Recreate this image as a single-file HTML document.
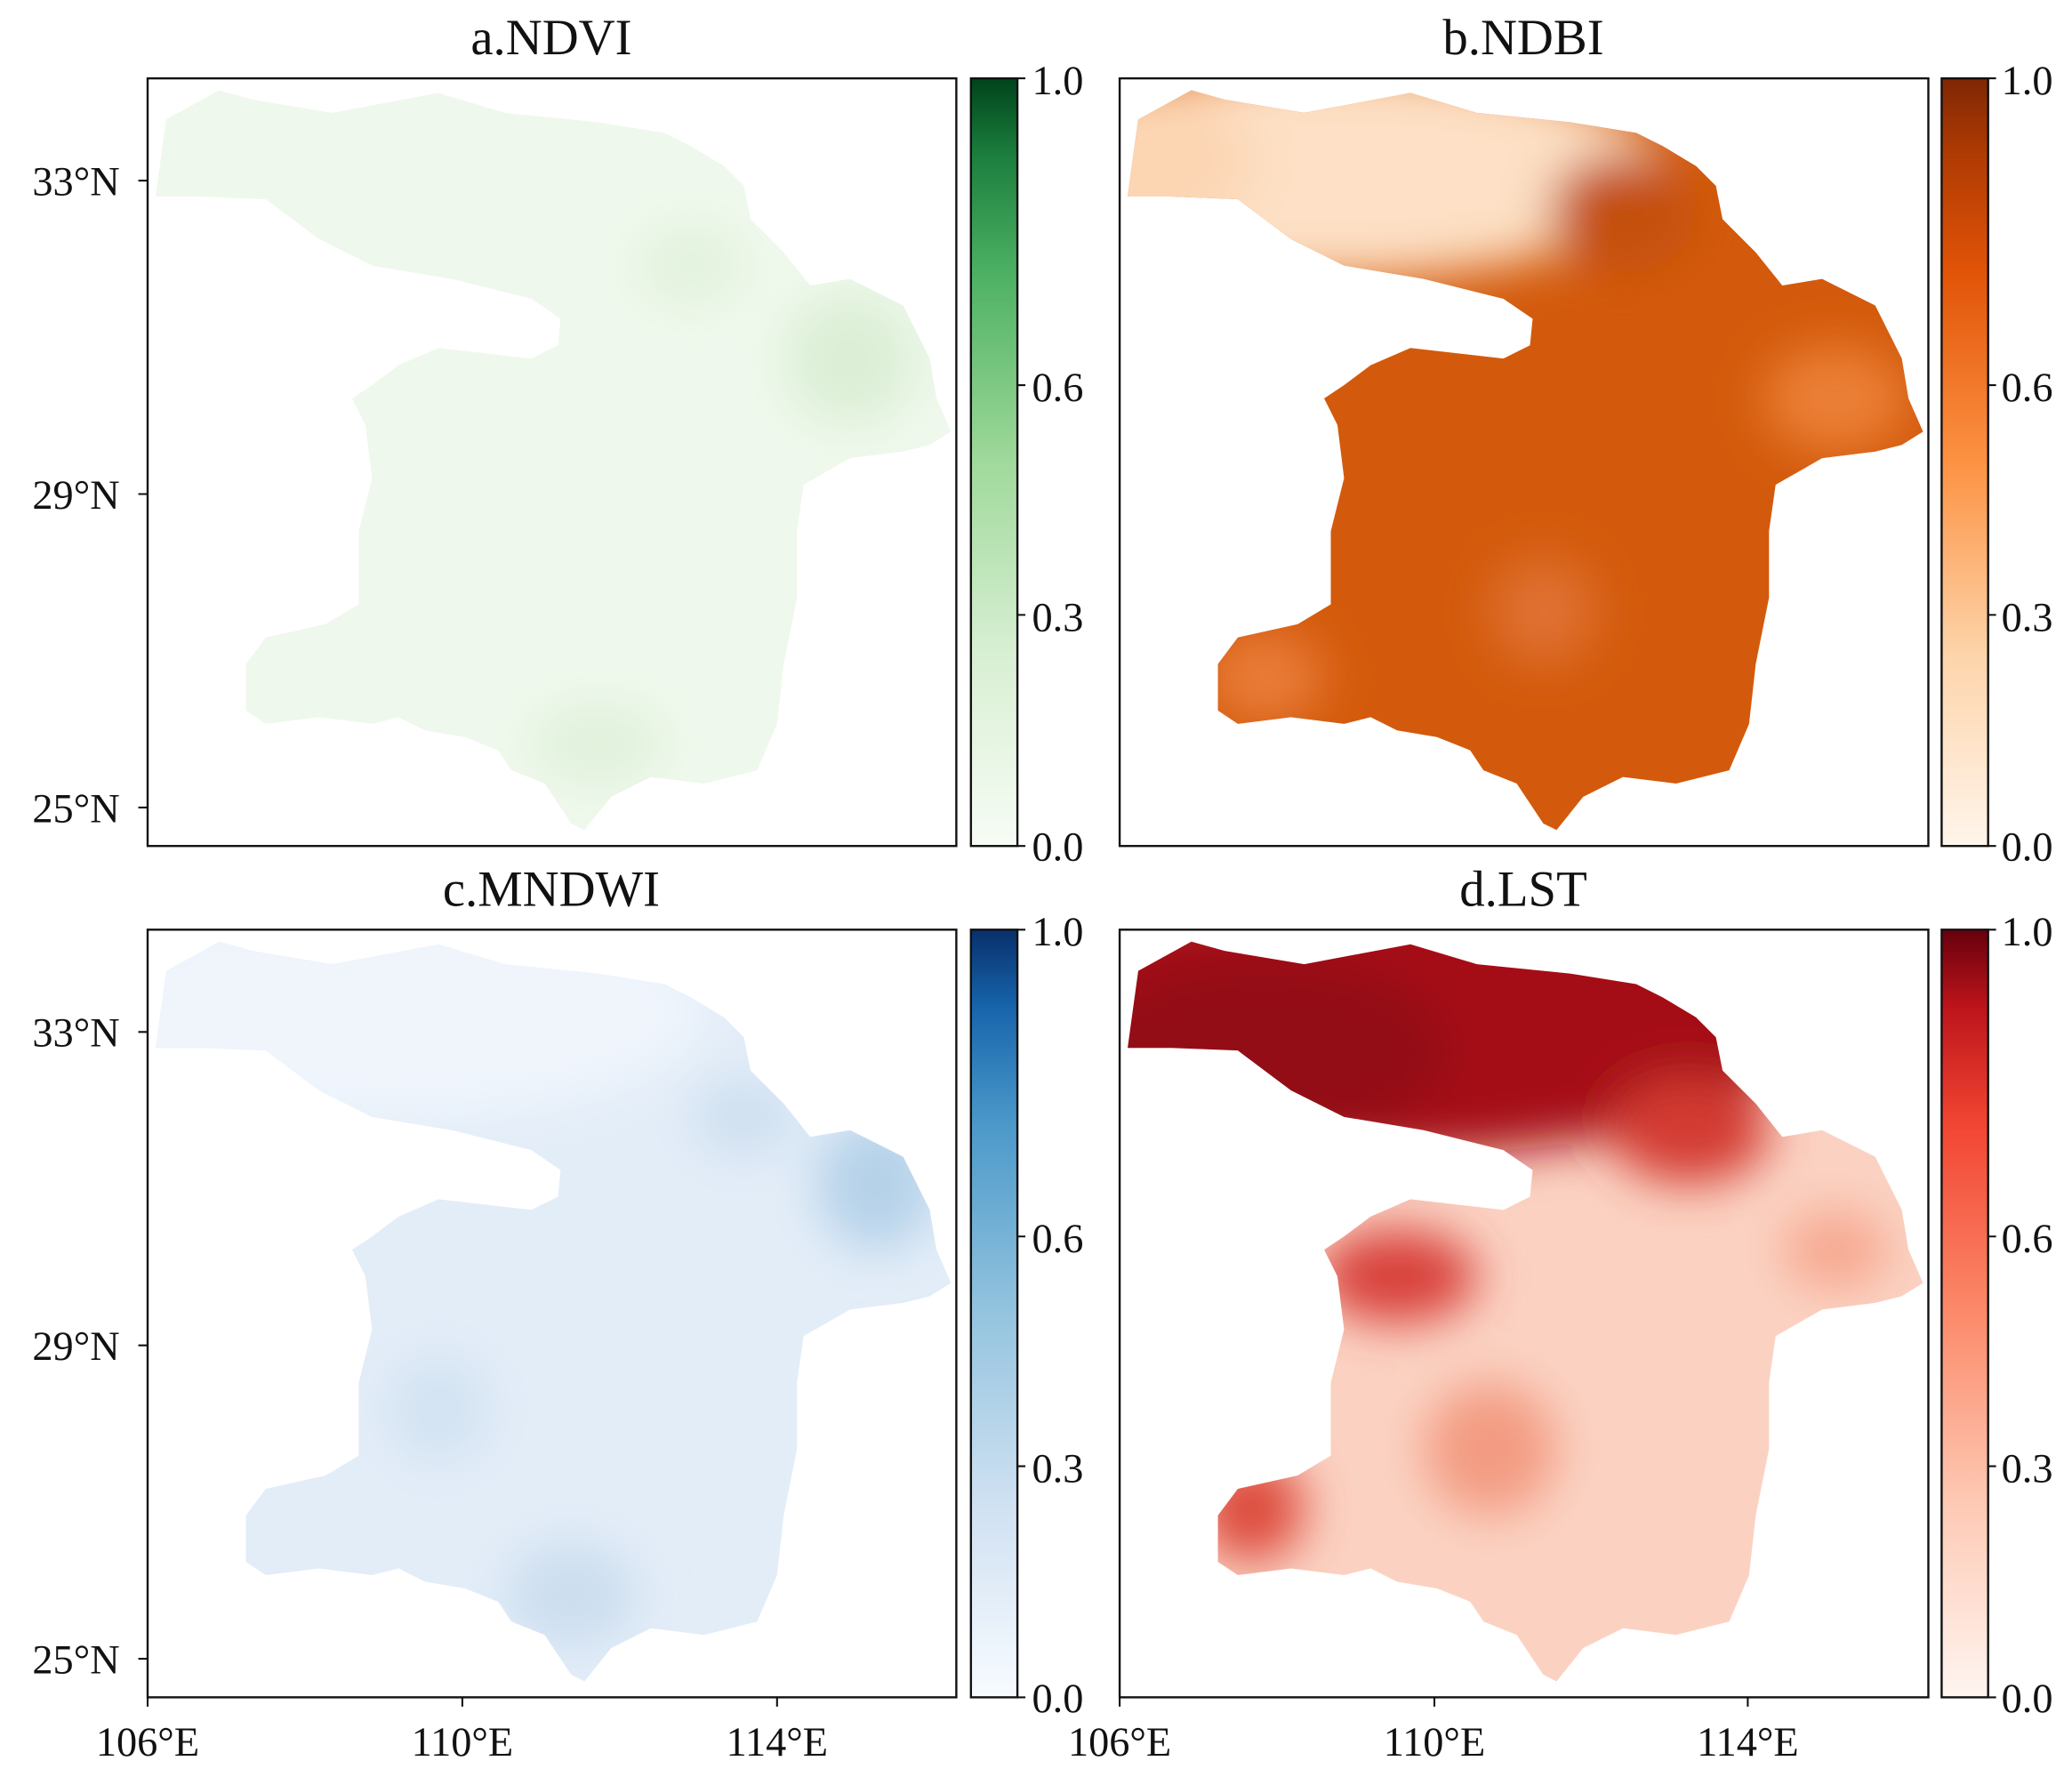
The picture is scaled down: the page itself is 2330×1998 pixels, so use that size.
<!DOCTYPE html>
<html><head><meta charset="utf-8"><style>
html,body{margin:0;padding:0;background:#fff;}
svg{display:block;}
text{font-family:"Liberation Serif",serif;fill:#111;}
</style></head><body>
<svg width="2330" height="1998" viewBox="0 0 1560 1338" xmlns="http://www.w3.org/2000/svg">
<defs>
<path id="shp" d="M117,148 L125,90 L165,68 L190,75 L250,85 L330,70 L380,85 L450,92 L500,100 L520,110 L545,125 L560,140 L565,165 L590,190 L610,215 L640,210 L680,230 L700,270 L705,300 L716,325 L700,335 L680,340 L640,345 L605,365 L600,400 L600,450 L590,500 L585,545 L570,580 L530,590 L490,585 L460,600 L440,625 L430,620 L410,590 L385,580 L375,565 L350,555 L320,550 L300,540 L280,545 L240,540 L200,545 L185,535 L185,500 L200,480 L245,470 L270,455 L270,400 L280,360 L275,320 L265,300 L280,290 L300,275 L330,262 L400,270 L420,260 L422,240 L400,225 L340,210 L280,200 L240,180 L200,150 L150,148 Z"/>
<clipPath id="clip"><use href="#shp"/></clipPath>
<filter id="blur" x="-30%" y="-30%" width="160%" height="160%"><feGaussianBlur stdDeviation="18"/></filter>
<linearGradient id="gG" x1="0" y1="1" x2="0" y2="0"><stop offset="0" stop-color="#f7fcf5"/><stop offset="0.25" stop-color="#d8efd3"/><stop offset="0.5" stop-color="#a0d99b"/><stop offset="0.75" stop-color="#4bb062"/><stop offset="0.9" stop-color="#1b7e3d"/><stop offset="1" stop-color="#00441b"/></linearGradient>
<linearGradient id="gO" x1="0" y1="1" x2="0" y2="0"><stop offset="0" stop-color="#fff5eb"/><stop offset="0.25" stop-color="#fdd4aa"/><stop offset="0.5" stop-color="#fd9243"/><stop offset="0.75" stop-color="#e15307"/><stop offset="0.9" stop-color="#b03b03"/><stop offset="1" stop-color="#7f2704"/></linearGradient>
<linearGradient id="gB" x1="0" y1="1" x2="0" y2="0"><stop offset="0" stop-color="#f7fbff"/><stop offset="0.25" stop-color="#d0e1f2"/><stop offset="0.5" stop-color="#94c4df"/><stop offset="0.75" stop-color="#4a98c9"/><stop offset="0.9" stop-color="#1764ab"/><stop offset="1" stop-color="#08306b"/></linearGradient>
<linearGradient id="gR" x1="0" y1="1" x2="0" y2="0"><stop offset="0" stop-color="#fff5f0"/><stop offset="0.25" stop-color="#fdcab5"/><stop offset="0.5" stop-color="#fc8a6a"/><stop offset="0.75" stop-color="#f14432"/><stop offset="0.9" stop-color="#bc141a"/><stop offset="1" stop-color="#67000d"/></linearGradient>
</defs>

<!-- Panel a NDVI -->
<g>
<use href="#shp" fill="#eff8ec"/>
<g clip-path="url(#clip)" filter="url(#blur)">
<ellipse cx="640" cy="270" rx="50" ry="50" fill="#dcefd6"/>
<ellipse cx="450" cy="560" rx="50" ry="30" fill="#e0f1db"/>
<ellipse cx="520" cy="200" rx="40" ry="30" fill="#e2f2dd"/>
</g>
</g>
<!-- Panel b NDBI -->
<g transform="translate(732,0)">
<use href="#shp" fill="#d35a0c"/>
<g clip-path="url(#clip)">
<g filter="url(#blur)">
<ellipse cx="270" cy="130" rx="250" ry="80" fill="#fde0c5"/>
<ellipse cx="130" cy="120" rx="80" ry="60" fill="#fcd6b3"/>
<ellipse cx="490" cy="160" rx="55" ry="45" fill="#c4500a"/>
<ellipse cx="650" cy="300" rx="55" ry="40" fill="#eb7f36"/>
<ellipse cx="220" cy="510" rx="45" ry="35" fill="#e97c38"/>
<ellipse cx="430" cy="460" rx="40" ry="40" fill="#df7130"/>
</g>
</g>
</g>
<!-- Panel c MNDWI -->
<g transform="translate(0,641)">
<use href="#shp" fill="#e3edf8"/>
<g clip-path="url(#clip)" filter="url(#blur)">
<ellipse cx="290" cy="120" rx="240" ry="80" fill="#f0f5fc"/>
<ellipse cx="660" cy="250" rx="45" ry="50" fill="#b5d2e9"/>
<ellipse cx="560" cy="200" rx="40" ry="30" fill="#cfe0f0"/>
<ellipse cx="430" cy="560" rx="50" ry="40" fill="#ccdeef"/>
<ellipse cx="330" cy="420" rx="40" ry="40" fill="#d3e3f2"/>
</g>
</g>
<!-- Panel d LST -->
<g transform="translate(732,641)">
<use href="#shp" fill="#fbd2c2"/>
<g clip-path="url(#clip)">
<g filter="url(#blur)">
<ellipse cx="300" cy="130" rx="330" ry="100" fill="#a50f15"/>
<ellipse cx="220" cy="150" rx="140" ry="70" fill="#930c13"/>
<ellipse cx="540" cy="210" rx="60" ry="40" fill="#d33a30"/>
<ellipse cx="320" cy="320" rx="60" ry="35" fill="#d8413a"/>
<ellipse cx="210" cy="495" rx="40" ry="40" fill="#dd4b3c"/>
<ellipse cx="390" cy="450" rx="50" ry="50" fill="#f39b82"/>
<ellipse cx="650" cy="300" rx="40" ry="30" fill="#f6a890"/>
</g>
</g>
</g>

<!-- frames -->
<g fill="none" stroke="#111" stroke-width="1.6">
<rect x="111" y="59" width="609" height="578"/>
<rect x="843" y="59" width="609" height="578"/>
<rect x="111" y="700" width="609" height="578"/>
<rect x="843" y="700" width="609" height="578"/>
</g>
<!-- colorbars -->
<rect x="731" y="59" width="35" height="578" fill="url(#gG)" stroke="#111" stroke-width="1.6"/>
<rect x="1462" y="59" width="35" height="578" fill="url(#gO)" stroke="#111" stroke-width="1.6"/>
<rect x="731" y="700" width="35" height="578" fill="url(#gB)" stroke="#111" stroke-width="1.6"/>
<rect x="1462" y="700" width="35" height="578" fill="url(#gR)" stroke="#111" stroke-width="1.6"/>

<!-- titles -->
<g font-size="38" text-anchor="middle">
<text x="415" y="41">a.NDVI</text>
<text x="1147" y="41">b.NDBI</text>
<text x="415" y="682">c.MNDWI</text>
<text x="1147" y="682">d.LST</text>
</g>

<!-- colorbar labels -->
<g font-size="31">
<text x="777" y="71">1.0</text><text x="777" y="302">0.6</text><text x="777" y="475">0.3</text><text x="777" y="648">0.0</text>
<text x="1507" y="71">1.0</text><text x="1507" y="302">0.6</text><text x="1507" y="475">0.3</text><text x="1507" y="648">0.0</text>
<text x="777" y="712">1.0</text><text x="777" y="943">0.6</text><text x="777" y="1116">0.3</text><text x="777" y="1289">0.0</text>
<text x="1507" y="712">1.0</text><text x="1507" y="943">0.6</text><text x="1507" y="1116">0.3</text><text x="1507" y="1289">0.0</text>
</g>
<g stroke="#111" stroke-width="1.4">
<path d="M766,59h6M766,290h6M766,463h6M766,637h6 M1497,59h6M1497,290h6M1497,463h6M1497,637h6 M766,700h6M766,931h6M766,1104h6M766,1278h6 M1497,700h6M1497,931h6M1497,1104h6M1497,1278h6"/>
<path d="M104,136h7M104,372h7M104,608h7 M104,777h7M104,1013h7M104,1249h7"/>
<path d="M111,1278v7M348,1278v7M585,1278v7 M843,1278v7M1080,1278v7M1316,1278v7"/>
</g>
<g font-size="31" text-anchor="end">
<text x="90" y="147">33°N</text><text x="90" y="383">29°N</text><text x="90" y="619">25°N</text>
<text x="90" y="788">33°N</text><text x="90" y="1024">29°N</text><text x="90" y="1260">25°N</text>
</g>
<g font-size="31" text-anchor="middle">
<text x="111" y="1322">106°E</text><text x="348" y="1322">110°E</text><text x="585" y="1322">114°E</text>
<text x="843" y="1322">106°E</text><text x="1080" y="1322">110°E</text><text x="1316" y="1322">114°E</text>
</g>
</svg>
</body></html>
